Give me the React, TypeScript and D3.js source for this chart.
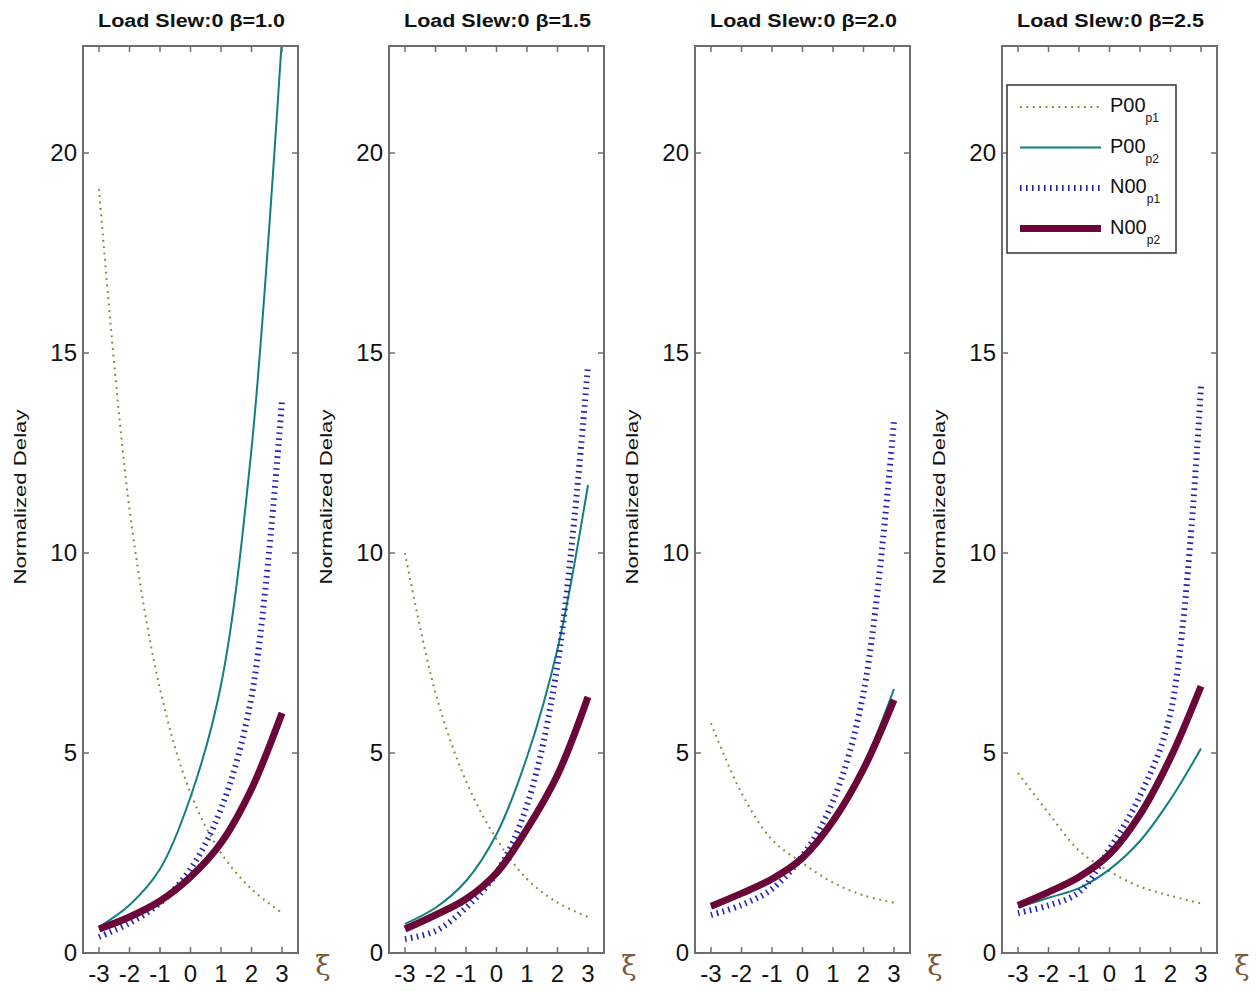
import React from "react";
import * as d3 from "d3";

// ξ positions shared by every panel
const xi = [-3, -2, -1, 0, 1, 2, 3];
const betas = ["1.0", "1.5", "2.0", "2.5"];
const yTicks = [0, 5, 10, 15, 20];

// one row per panel (β = 1.0, 1.5, 2.0, 2.5)
const p00p1 = [
  [19.1, 11.1, 6.6, 4.0, 2.5, 1.6, 1.0],
  [10.0, 6.5, 4.3, 2.85, 1.85, 1.26, 0.9],
  [5.74, 4.0, 2.83, 2.25, 1.76, 1.44, 1.26],
  [4.5, 3.5, 2.56, 2.04, 1.66, 1.43, 1.24],
];
const p00p2 = [
  [0.65, 1.2, 2.1, 3.9, 6.7, 12.6, 22.9],
  [0.73, 1.13, 1.8, 2.97, 4.9, 7.6, 11.7],
  [1.15, 1.47, 1.85, 2.4, 3.35, 4.7, 6.6],
  [1.14, 1.38, 1.62, 2.09, 2.8, 3.84, 5.11],
];
const n00p1 = [
  [0.4, 0.75, 1.25, 2.1, 3.6, 6.4, 13.8],
  [0.35, 0.55, 1.13, 2.0, 3.7, 7.2, 14.7],
  [0.95, 1.2, 1.6, 2.43, 3.8, 6.5, 13.3],
  [1.0, 1.19, 1.52, 2.6, 3.93, 6.0, 14.2],
];
const n00p2 = [
  [0.6, 0.9, 1.3, 1.9, 2.75, 4.1, 6.0],
  [0.6, 0.95, 1.35, 2.0, 3.1, 4.45, 6.4],
  [1.17, 1.49, 1.85, 2.38, 3.3, 4.6, 6.33],
  [1.19, 1.52, 1.9, 2.47, 3.46, 4.88, 6.67],
];

const seriesNames = ["P00", "P00", "N00", "N00"];
const seriesSubs = ["p1", "p2", "p1", "p2"];

const styles = [
  { stroke: "#85852a", width: 2, dash: "1.8,4.6" },
  { stroke: "#117f80", width: 2, dash: null },
  { stroke: "#2424ad", width: 6, dash: "1.6,4.4" },
  { stroke: "#6a0638", width: 7, dash: null },
];

const W = 1257,
  H = 991;
const panelLeft = [83, 389, 695, 1002];
const panelW = 215;
const top = 46,
  bottom = 953;
const font = "'Liberation Sans', Arial, sans-serif";
const axisColor = "#6e6e6e";

const Panel = ({ idx }: { idx: number }) => {
  const left = panelLeft[idx];
  const x = d3.scaleLinear().domain([-3.525, 3.525]).range([left, left + panelW]);
  const y = d3.scaleLinear().domain([0, (bottom - top) / 40]).range([bottom, top]);
  const line = d3
    .line<number>()
    .x((_, i) => x(xi[i]))
    .y((d) => y(d))
    .curve(d3.curveCatmullRom.alpha(0.5));
  const data = [p00p1[idx], p00p2[idx], n00p1[idx], n00p2[idx]];
  const clipId = `clip${idx}`;
  return (
    <g>
      <defs>
        <clipPath id={clipId}>
          <rect x={left} y={top} width={panelW} height={bottom - top} />
        </clipPath>
      </defs>
      <g clipPath={`url(#${clipId})`}>
        {data.map((d, i) => (
          <path
            key={i}
            d={line(d) || ""}
            fill="none"
            stroke={styles[i].stroke}
            strokeWidth={styles[i].width}
            strokeDasharray={styles[i].dash || undefined}
          />
        ))}
      </g>
      <rect
        x={left}
        y={top}
        width={panelW}
        height={bottom - top}
        fill="none"
        stroke={axisColor}
        strokeWidth={2}
      />
      {xi.map((t) => (
        <g key={"xt" + t} stroke={axisColor} strokeWidth={1.5}>
          <line x1={x(t)} x2={x(t)} y1={bottom} y2={bottom - 6} />
          <line x1={x(t)} x2={x(t)} y1={top} y2={top + 6} />
        </g>
      ))}
      {yTicks.map((t) => (
        <g key={"yt" + t} stroke={axisColor} strokeWidth={1.5}>
          <line x1={left} x2={left + 6} y1={y(t)} y2={y(t)} />
          <line x1={left + panelW} x2={left + panelW - 6} y1={y(t)} y2={y(t)} />
        </g>
      ))}
      {xi.map((t) => (
        <text
          key={"xl" + t}
          x={x(t)}
          y={982}
          textAnchor="middle"
          fontFamily={font}
          fontSize={24}
          fill="#111"
        >
          {t}
        </text>
      ))}
      {yTicks.map((t) => (
        <text
          key={"yl" + t}
          x={left - 6}
          y={y(t) + 8}
          textAnchor="end"
          fontFamily={font}
          fontSize={24}
          fill="#111"
        >
          {t}
        </text>
      ))}
      <text
        x={left + panelW + 25}
        y={975}
        textAnchor="middle"
        fontFamily="'DejaVu Serif', serif"
        fontSize={28}
        fill="#7a5a3a"
      >
        ξ
      </text>
      <text
        transform={`translate(${left - 57},497) rotate(-90)`}
        textAnchor="middle"
        fontFamily={font}
        fontSize={17}
        textLength={175}
        lengthAdjust="spacingAndGlyphs"
        fill="#111"
      >
        Normalized Delay
      </text>
      <text
        x={left + panelW / 2 + 1}
        y={27}
        textAnchor="middle"
        fontFamily={font}
        fontSize={18}
        fontWeight="bold"
        textLength={187}
        lengthAdjust="spacingAndGlyphs"
        fill="#111"
      >
        Load Slew:0 β={betas[idx]}
      </text>
    </g>
  );
};

const Legend = () => {
  const lx = 1007,
    ly = 85;
  return (
    <g>
      <rect x={lx} y={ly} width={169} height={168} fill="#fff" stroke="#333" strokeWidth={1.5} />
      {seriesNames.map((name, i) => {
        const ry = 107 + 40.5 * i;
        return (
          <g key={i}>
            <line
              x1={1020}
              x2={1101}
              y1={ry}
              y2={ry}
              stroke={styles[i].stroke}
              strokeWidth={styles[i].width}
              strokeDasharray={styles[i].dash || undefined}
            />
            <text x={1110} y={ry + 5} fontFamily={font} fontSize={20} fill="#111">
              {name}
              <tspan fontSize={12} dy={10}>
                {seriesSubs[i]}
              </tspan>
            </text>
          </g>
        );
      })}
    </g>
  );
};

export default function App() {
  return (
    <svg
      width={W}
      height={H}
      style={{ position: "absolute", left: 0, top: 0, background: "#fff" }}
    >
      <rect width={W} height={H} fill="#fff" />
      {betas.map((_, i) => (
        <Panel key={i} idx={i} />
      ))}
      <Legend />
    </svg>
  );
}
